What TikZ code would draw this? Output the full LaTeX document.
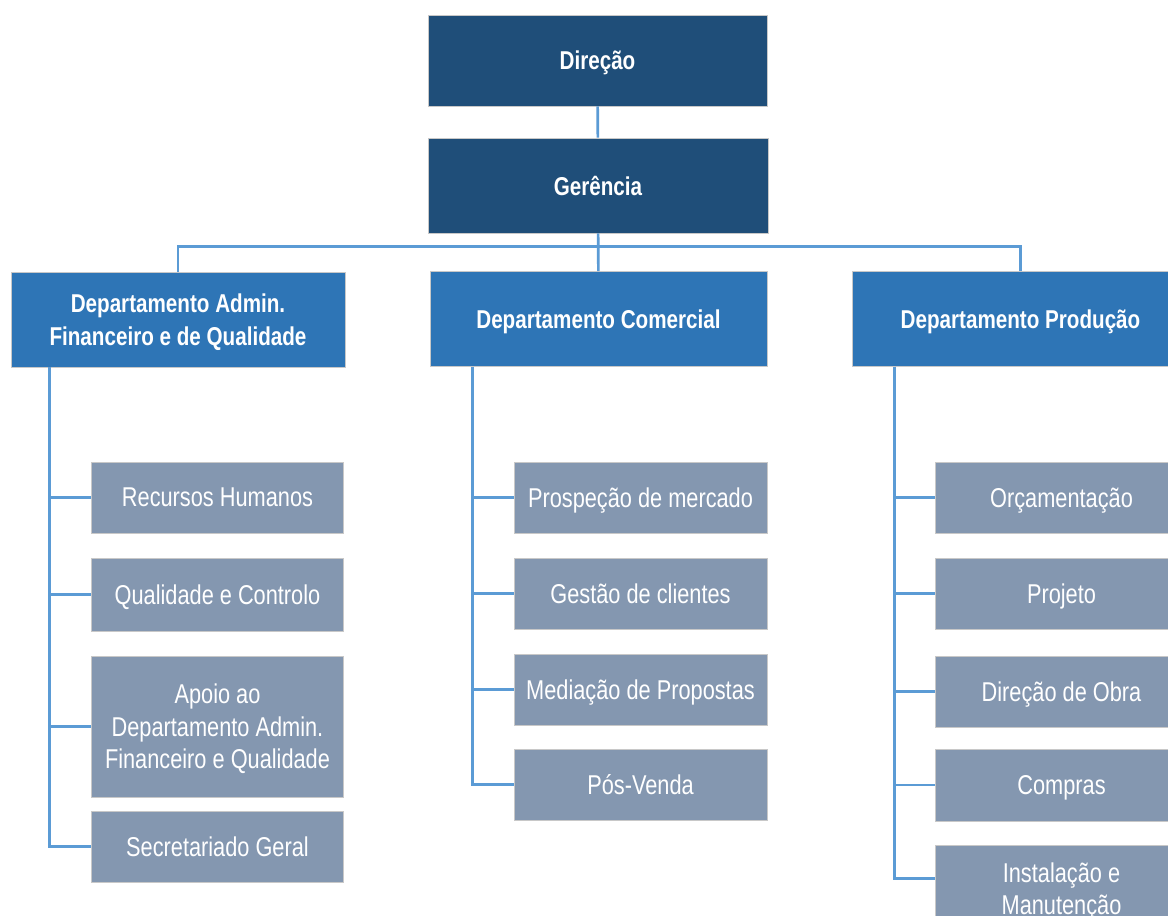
\documentclass[tikz,border=0pt]{standalone}
\usepackage{fontspec}
\setmainfont{Liberation Sans}[FakeStretch=0.8]
\definecolor{topblue}{HTML}{1F4E79}
\definecolor{deptblue}{HTML}{2E75B6}
\definecolor{subgray}{HTML}{8497B0}
\definecolor{linkblue}{HTML}{5B9BD5}
\definecolor{edgegray}{HTML}{C8C8C8}
\tikzset{
	box/.style={draw=edgegray, line width=0.8pt, text=white, align=center, inner sep=0pt, text depth=0pt},
	topbox/.style={box, fill=topblue, font=\bfseries\fontsize{25.8}{31}\selectfont},
	deptbox/.style={box, fill=deptblue, minimum width=337pt, minimum height=95pt, font=\bfseries\fontsize{25.8}{33}\selectfont},
	subbox/.style={box, fill=subgray, minimum width=252pt, minimum height=71pt, font=\fontsize{27.2}{32.5}\selectfont},
	link/.style={linkblue, line width=2.6pt}
}
\begin{document}
\begin{tikzpicture}[x=1pt,y=-1pt]
	\clip (0,0) rectangle (1168,916);
	\fill[white] (0,0) rectangle (1168,916);
	% top
	\node[topbox, minimum width=339pt, minimum height=91pt] (dir) at (597.5,60.5) {Direção};
	\node[topbox, minimum width=340pt, minimum height=95pt] (ger) at (598,185.5) {Gerência};
	% departments
	\node[deptbox, minimum width=334pt] (dadm) at (178,319.5) {Departamento Admin.\\Financeiro e de Qualidade};
	\node[deptbox] (dcom) at (598.5,319) {Departamento Comercial};
	\node[deptbox] (dprod) at (1020.5,319) {Departamento Produção};
	% admin
	\node[subbox] (rh) at (217.5,497.5) {Recursos Humanos};
	\node[subbox, minimum height=73pt] (qc) at (217.5,594.5) {Qualidade e Controlo};
	\node[subbox, minimum height=141pt] (apoio) at (217.5,726.5) {Apoio ao\\Departamento Admin.\\Financeiro e Qualidade};
	\node[subbox] (sg) at (217.5,846.5) {Secretariado Geral};
	% comercial
	\node[subbox, minimum width=253pt] (prosp) at (640.5,497.5) {Prospeção de mercado};
	\node[subbox, minimum width=253pt] (gest) at (640.5,593.5) {Gestão de clientes};
	\node[subbox, minimum width=253pt] (med) at (640.5,689.5) {Mediação de Propostas};
	\node[subbox, minimum width=253pt] (pos) at (640.5,784.5) {Pós-Venda};
	% producao
	\node[subbox] (orc) at (1061.5,497.5) {Orçamentação};
	\node[subbox] (proj) at (1061.5,593.5) {Projeto};
	\node[subbox] (dobra) at (1061.5,691.5) {Direção de Obra};
	\node[subbox, minimum height=72pt] (comp) at (1061.5,785) {Compras};
	\node[subbox, minimum height=87pt] (inst) at (1061.5,888.5) {Instalação e\\Manutenção};
	% links
	\draw[link] (dir) -- (ger);
	\draw[link] (ger) -- (dcom);
	\draw[link] (dadm.north) -- ++(0,-25) -| (dprod.north);
	\coordinate (spadm) at ([xshift=39pt]dadm.south west);
	\coordinate (spcom) at ([xshift=43pt]dcom.south west);
	\coordinate (spprod) at ([xshift=43pt]dprod.south west);
	\foreach \c in {rh,qc,apoio,sg}
		\draw[link] (spadm) |- (\c.west);
	\foreach \c in {prosp,gest,med,pos}
		\draw[link] (spcom) |- (\c.west);
	\foreach \c in {orc,proj,dobra,comp}
		\draw[link] (spprod) |- (\c.west);
	\draw[link] (spprod) |- ([yshift=10pt]inst.west);
\end{tikzpicture}
\end{document}
